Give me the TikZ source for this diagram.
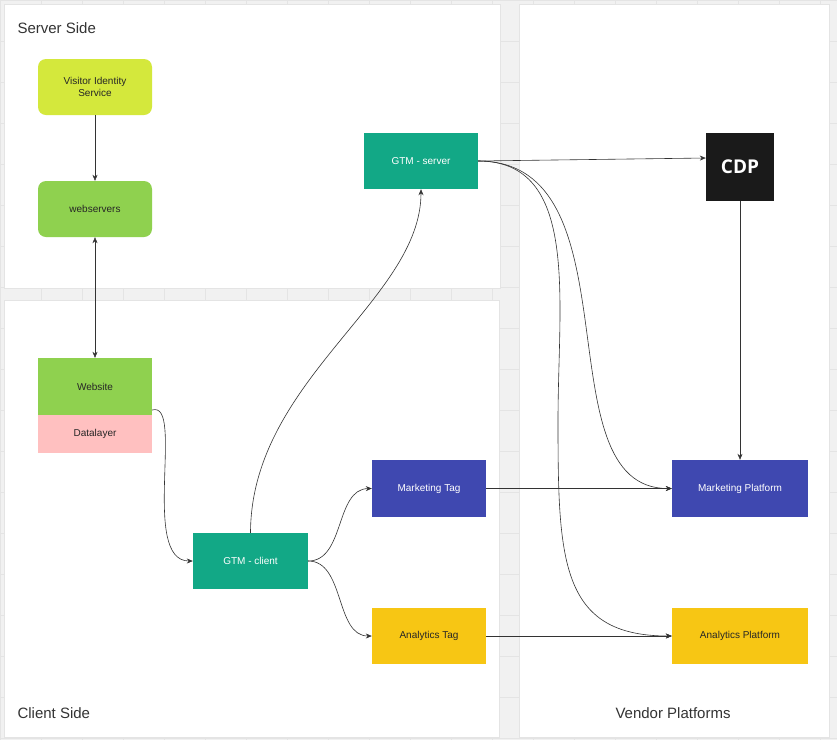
\documentclass[tikz,border=0pt]{standalone}
\usepackage{fontspec}
\setmainfont{Liberation Sans}
\newfontfamily\cdpfont{Open Sans}
\usetikzlibrary{arrows.meta}
\definecolor{bgc}{HTML}{F1F1F1}
\definecolor{gridc}{HTML}{E4E4E4}
\definecolor{lime}{HTML}{D4E83C}
\definecolor{grn}{HTML}{8FD14F}
\definecolor{pinkc}{HTML}{FFC0C0}
\definecolor{teal}{HTML}{12A886}
\definecolor{blu}{HTML}{3F48B0}
\definecolor{yel}{HTML}{F7C614}
\definecolor{blk}{HTML}{1A1A1A}
\tikzset{
  box/.style={draw=none,minimum width=114pt,minimum height=56pt,inner sep=0pt,font=\fontsize{10}{12}\selectfont,align=center},
  panel/.style={fill=white,draw=gridc},
  title/.style={font=\fontsize{15}{18}\selectfont,text=black!80,anchor=west},
  arr/.style={-{Stealth[length=6pt,width=5pt]},draw=black!80,line width=0.6pt},
}
\begin{document}
\begin{tikzpicture}[x=1pt,y=-1pt]
\useasboundingbox (0,0) rectangle (837,740);
\fill[bgc] (0,0) rectangle (837,740);
\foreach \x in {0,41,...,837} \draw[gridc,line width=0.5pt] (\x,0)--(\x,740);
\foreach \y in {0,41,...,740} \draw[gridc,line width=0.5pt] (0,\y)--(837,\y);
\draw[panel] (4,4) rectangle (500,288);
\draw[panel] (4,300) rectangle (499,737);
\draw[panel] (519,4) rectangle (829,737);
\node[title] (ts) at (14,28) {Server Side};
\node[title] (tc) at (14,713) {Client Side};
\node[title] (tv) at (612,713) {Vendor Platforms};

\node[box,fill=lime,rounded corners=8pt,text=black!85] (vis) at (95,87) {Visitor Identity\\Service};
\node[box,fill=grn,rounded corners=8pt,text=black!85] (web) at (95,209) {webservers};
\node[box,fill=grn,minimum height=57pt,text=black!85] (site) at (95,386.5) {Website};
\node[box,fill=pinkc,minimum height=38pt,text=black!85] (dl) at (95,434) {Datalayer};
\node[box,fill=teal,text=white] (gs) at (421,161) {GTM - server};
\node[box,fill=teal,text=white,minimum width=115pt] (gc) at (250.5,561) {GTM - client};
\node[box,fill=blu,text=white,minimum height=57pt] (mt) at (429,488.5) {Marketing Tag};
\node[box,fill=yel,text=black!85] (at) at (429,636) {Analytics Tag};
\node[box,fill=blk,text=white,minimum width=68pt,minimum height=68pt,font=\cdpfont\bfseries\fontsize{19}{22}\selectfont] (cdp) at (740,167) {CDP};
\node[box,fill=blu,text=white,minimum width=136pt,minimum height=57pt] (mp) at (740,488.5) {Marketing Platform};
\node[box,fill=yel,text=black!85,minimum width=136pt] (ap) at (740,636) {Analytics Platform};

\draw[arr,line width=0.4pt] (vis) -- (web);
\draw[arr,line width=0.4pt,{Stealth[length=6pt,width=5pt]}-{Stealth[length=6pt,width=5pt]}] (web) -- (site);
\draw[arr] (site.east|-0,410) .. controls (185,400) and (140,561) .. (gc.west);
\draw[arr] (gc.north) .. controls (251,380) and (421,300) .. (gs.south);
\draw[arr] (gc.east) .. controls (345,561) and (335,489) .. (mt.west);
\draw[arr] (gc.east) .. controls (345,561) and (335,636) .. (at.west);
\draw[arr] (mt) -- (mp);
\draw[arr] (at) -- (ap);
\draw[arr] (gs.east) -- (cdp.west|-0,158);
\draw[arr] (cdp) -- (mp);
\draw[arr] (gs.east) .. controls (640,161) and (540,489) .. (mp.west);
\draw[arr] (gs.east) .. controls (580,161) and (558,300) .. (558,420) .. controls (558,560) and (560,636) .. (ap.west);
\end{tikzpicture}
\end{document}
